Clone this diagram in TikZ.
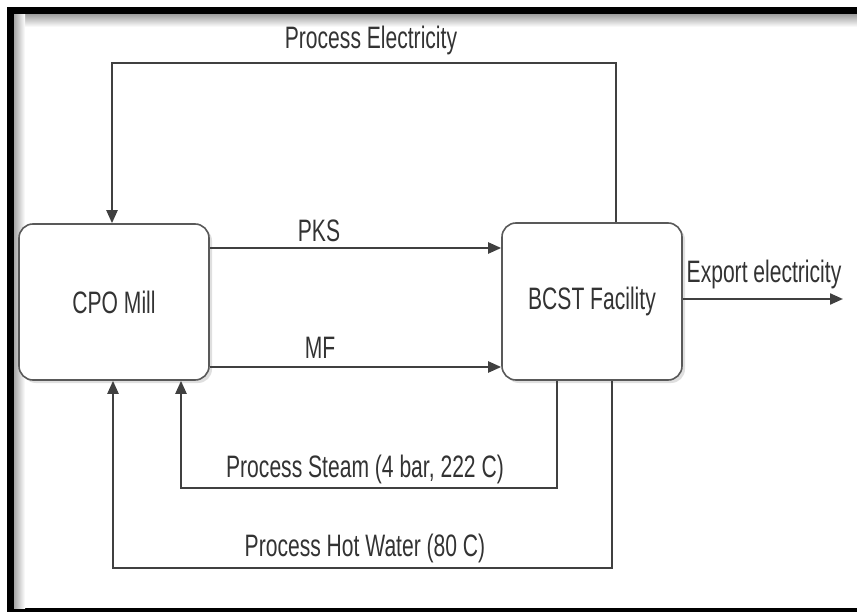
\documentclass[tikz,border=0pt]{standalone}
\usepackage{fontspec}
\setmainfont{Liberation Sans}[FakeStretch=0.68]
\usetikzlibrary{arrows.meta,shadows}
\begin{document}
\begin{tikzpicture}[
  x=1pt, y=-1pt,
  every node/.style={font=\fontsize{31}{35}\selectfont, text=black!80},
  unit/.style={draw=black!65, line width=1.6pt, rounded corners=14pt, fill=white,
    drop shadow={shadow xshift=3pt, shadow yshift=-3pt, opacity=0.25}},
  flow/.style={draw=black!75, line width=2.2pt},
  feed/.style={flow, -{Triangle[length=13pt,width=11pt]}}
]
\useasboundingbox (0,0) rectangle (857,612);
\fill[black] (7,7) rectangle (857,612);
\fill[white] (14,15) rectangle (857,608);
\shade[top color=black!35, bottom color=white] (14,15) rectangle (857,27);
\shade[left color=black!35, right color=white] (14,15) rectangle (25,608);

\node[unit, minimum width=190pt, minimum height=156pt] (cpo) at (114,302) {CPO Mill};
\node[unit, minimum width=180pt, minimum height=157pt] (bcst) at (592,301.5) {BCST Facility};
\coordinate (grid) at (843,299);

\draw[feed] (cpo.east |- 0,248) -- (bcst.west |- 0,248);
\draw[feed] (cpo.east |- 0,367) -- (bcst.west |- 0,367);
\draw[feed] (bcst.east |- grid) -- (grid);
\draw[feed] (616,0 |- bcst.north) -- (616,63) -| (cpo.north -| 112,0);
\draw[feed] (557,0 |- bcst.south) |- (181,488) -- (cpo.south -| 181,0);
\draw[feed] (612,0 |- bcst.south) |- (113,568) -- (cpo.south -| 113,0);

\node[anchor=base] (elec) at (371,49) {Process Electricity};
\node[anchor=base] (pks) at (319,242) {PKS};
\node[anchor=base] (mf) at (320,359) {MF};
\node[anchor=base] (export) at (764,283) {Export electricity};
\node[anchor=base] (steam) at (365,477) {Process Steam (4 bar, 222 C)};
\node[anchor=base] (water) at (365,556) {Process Hot Water (80 C)};
\end{tikzpicture}
\end{document}
